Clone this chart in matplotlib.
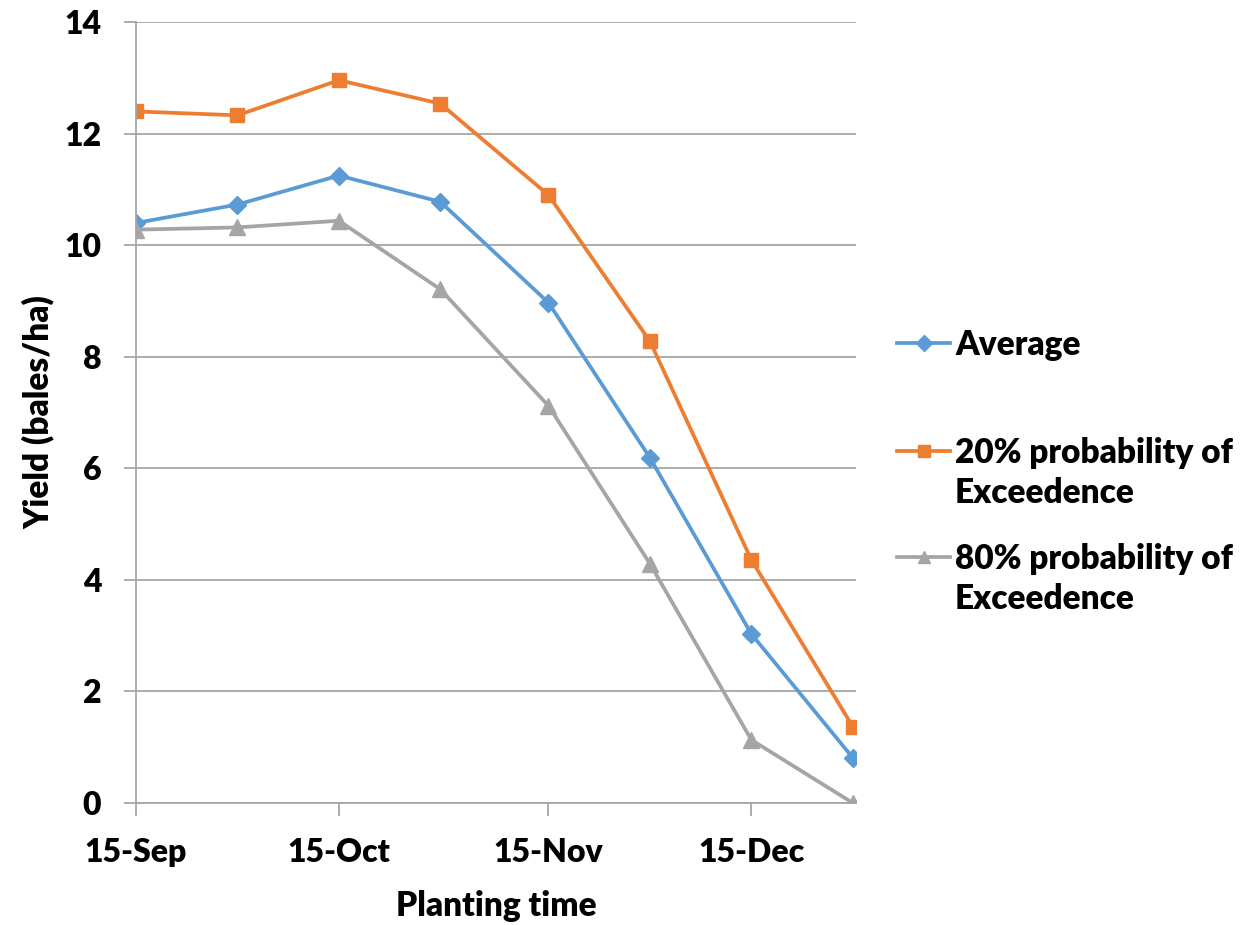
import matplotlib.pyplot as plt
import matplotlib.dates as mdates
from matplotlib.lines import Line2D
import numpy as np

plt.rcParams['font.family'] = ['Lato', 'DejaVu Sans']

# planting dates (every ~15 days)
dates = np.array(['2015-09-15', '2015-09-30', '2015-10-15', '2015-10-30',
                  '2015-11-15', '2015-11-30', '2015-12-15', '2015-12-30'],
                 dtype='datetime64[D]')
average = [10.40, 10.73, 11.25, 10.78, 8.97, 6.19, 3.03, 0.81]
prob20 = [12.40, 12.33, 12.96, 12.54, 10.90, 8.28, 4.36, 1.37]
prob80 = [10.28, 10.32, 10.44, 9.21, 7.12, 4.29, 1.13, 0.00]
labels = ['Average', '20% probability of\nExceedence', '80% probability of\nExceedence']

tick_dates = np.array(['2015-09-15', '2015-10-15', '2015-11-15', '2015-12-15'],
                      dtype='datetime64[D]')

grid_col = '#A6A6A6'
W = 'heavy'

fig = plt.figure(figsize=(12.48, 9.25), dpi=100)
ax = fig.add_axes([0.109, 0.132, 0.577, 0.844])

lines = []
for vals, col, mk, ms, lab in [(average, '#5B9BD5', 'D', 9, labels[0]),
                               (prob20, '#ED7D31', 's', 10.5, labels[1]),
                               (prob80, '#A5A5A5', '^', 11, labels[2])]:
    ln, = ax.plot(dates, vals, color=col, lw=2.7, marker=mk, ms=ms, label=lab)
    lines.append(ln)

ax.set_ylim(0, 14)
ax.set_yticks(range(0, 15, 2))
ax.set_xlim(dates[0], dates[-1] + np.timedelta64(12, 'h'))
ax.set_xticks(tick_dates)
ax.xaxis.set_major_formatter(mdates.DateFormatter('%d-%b'))

ax.grid(axis='y', color=grid_col, lw=1.3)
ax.set_axisbelow(True)
for s in ['top', 'right']:
    ax.spines[s].set_visible(False)
for s in ['left', 'bottom']:
    ax.spines[s].set_color(grid_col)
    ax.spines[s].set_linewidth(1.3)
ax.tick_params(axis='both', length=9, color=grid_col, width=1.3, labelsize=23, pad=16)
for t in ax.get_xticklabels() + ax.get_yticklabels():
    t.set_fontweight(W)

ax.set_xlabel('Planting time', fontsize=24, fontweight=W, labelpad=17)
ax.set_ylabel('Yield (bales/ha)', fontsize=24, fontweight=W, labelpad=7)

# legend drawn by hand so the marker sits on the first text line (Excel style)
leg_y = [1 - 343 / 925, 1 - 451 / 925, 1 - 557 / 925]
x0, x1, xt = 897 / 1248, 950 / 1248, 955 / 1248
for ln, y in zip(lines, leg_y):
    fig.add_artist(Line2D([x0, x1], [y, y], transform=fig.transFigure,
                          color=ln.get_color(), lw=ln.get_linewidth()))
    fig.add_artist(Line2D([(x0 + x1) / 2], [y], transform=fig.transFigure,
                          color=ln.get_color(), marker=ln.get_marker(),
                          ms=ln.get_markersize() * 0.85, ls='none'))
    fig.text(xt, y + 14 / 925, ln.get_label(), fontsize=24, fontweight=W,
             va='top', ha='left', linespacing=1.32)

fig.savefig('out.png', dpi=100)
